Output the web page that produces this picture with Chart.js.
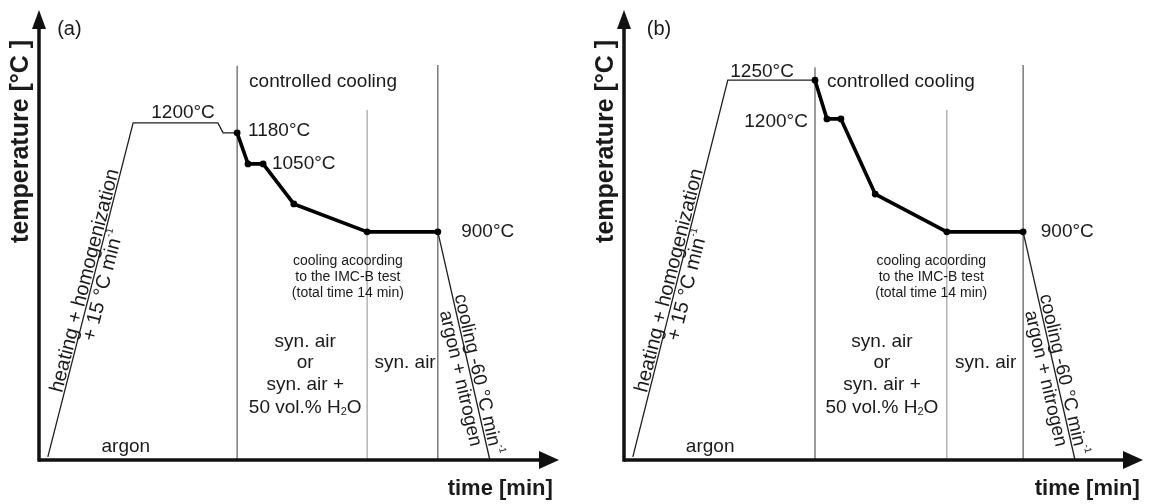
<!DOCTYPE html>
<html><head><meta charset="utf-8">
<script src="https://cdn.jsdelivr.net/npm/chart.js@4.4.0/dist/chart.umd.min.js"></script>
<style>
html,body{margin:0;padding:0;background:#fff;}
#wrap{position:relative;width:1150px;height:504px;overflow:hidden;}
canvas{position:absolute;top:0;}
#ca{left:0;}
#cb{left:585px;}
</style></head><body>
<div id="wrap"><canvas id="ca" width="585" height="504"></canvas><canvas id="cb" width="565" height="504"></canvas></div>
<script>
// Schematic units: relative time 0..100, relative temperature level 0..100
// Panel (a)
const heatA_x = [1.7, 18.1, 34.4, 35.4, 38.1];
const heatA_y = [0.7, 74.9, 74.9, 72.7, 72.7];
const ctrlA_x = [38.1, 40.2, 43.1, 49.0, 63.1, 76.7];
const ctrlA_y = [72.7, 65.8, 65.8, 56.9, 50.7, 50.7];
const coolA_x = [76.7, 86.7];
const coolA_y = [50.7, 0];
const stageA_x = [38.1, 63.1, 76.7];
const stageA_top = [87.6, 77.8, 87.8];
// Panel (b)
const heatB_x = [1.7, 20.0, 36.8];
const heatB_y = [0.7, 84.4, 84.4];
const ctrlB_x = [36.8, 39.1, 41.8, 48.4, 62.2, 76.9];
const ctrlB_y = [84.4, 75.8, 75.8, 59.1, 50.7, 50.7];
const coolB_x = [76.9, 86.9];
const coolB_y = [50.7, 0];
const stageB_x = [36.8, 62.2, 76.9];
const stageB_top = [87.3, 77.8, 87.8];
// temperature labels
const tempA = ['1200°C', '1180°C', '1050°C', '900°C'];
const tempB = ['1250°C', '1200°C', '900°C'];
const atmos = ['argon', 'syn. air', 'or', 'syn. air +', '50 vol.% H_{2}O'];
const imcLines = ['cooling acoording', 'to the IMC-B test', '(total time 14 min)'];

const FONT = '"Liberation Sans", Arial, Helvetica, sans-serif';

function parseRich(text) {
  const segs = []; const re = /(\^\{([^}]*)\}|_\{([^}]*)\})/g; let last = 0, m;
  while ((m = re.exec(text))) {
    if (m.index > last) segs.push({t: text.slice(last, m.index), k: 0});
    if (m[2] !== undefined) segs.push({t: m[2], k: 1}); else segs.push({t: m[3], k: -1});
    last = re.lastIndex;
  }
  if (last < text.length) segs.push({t: text.slice(last), k: 0});
  return segs;
}
function richDraw(ctx, text, x, y, size, weight, align) {
  const segs = parseRich(text);
  const font = k => `${weight} ${k ? Math.round(size * (k === 1 ? 0.5 : 0.6)) : size}px ${FONT}`;
  let w = 0;
  segs.forEach(s => { ctx.font = font(s.k); s.w = ctx.measureText(s.t).width; w += s.w; });
  let sx = align === 'center' ? x - w / 2 : align === 'right' ? x - w : x;
  ctx.textAlign = 'left';
  segs.forEach(s => {
    ctx.font = font(s.k);
    const dy = s.k === 1 ? -size * 0.5 : s.k === -1 ? size * 0.12 : 0;
    ctx.fillText(s.t, sx, y + dy); sx += s.w;
  });
}

const schematic = {
  id: 'schematic',
  afterDraw(chart, args, opts) {
    const ctx = chart.ctx, xs = chart.scales.x, ys = chart.scales.y, a = chart.chartArea;
    ctx.save();
    // axes with arrows
    ctx.strokeStyle = '#111'; ctx.fillStyle = '#111'; ctx.lineWidth = 3.5; ctx.lineCap = 'butt';
    ctx.beginPath(); ctx.moveTo(a.left, a.bottom); ctx.lineTo(a.right - 16, a.bottom); ctx.stroke();
    ctx.beginPath(); ctx.moveTo(a.left, a.bottom + 1.75); ctx.lineTo(a.left, a.top + 14); ctx.stroke();
    ctx.beginPath(); ctx.moveTo(a.right, a.bottom); ctx.lineTo(a.right - 20, a.bottom - 9); ctx.lineTo(a.right - 20, a.bottom + 9); ctx.closePath(); ctx.fill();
    ctx.beginPath(); ctx.moveTo(a.left, a.top); ctx.lineTo(a.left - 7, a.top + 19); ctx.lineTo(a.left + 7, a.top + 19); ctx.closePath(); ctx.fill();
    // labels
    ctx.fillStyle = '#1a1a1a'; ctx.textBaseline = 'alphabetic';
    (opts.labels || []).forEach(L => {
      const px = xs.getPixelForValue(L.x), py = ys.getPixelForValue(L.y);
      ctx.save();
      ctx.translate(px, py);
      if (L.rot) { ctx.rotate(L.rot * Math.PI / 180); ctx.textBaseline = 'middle'; }
      richDraw(ctx, L.t, 0, 0, L.s || 19, L.w || 'normal', L.a || 'left');
      ctx.restore();
      ctx.textBaseline = 'alphabetic';
    });
    (opts.along || []).forEach(L => {
      const p1x = xs.getPixelForValue(L.seg[0]), p1y = ys.getPixelForValue(L.seg[1]);
      const p2x = xs.getPixelForValue(L.seg[2]), p2y = ys.getPixelForValue(L.seg[3]);
      const ang = Math.atan2(p2y - p1y, p2x - p1x);
      ctx.save();
      ctx.translate(p1x, p1y); ctx.rotate(ang);
      richDraw(ctx, L.t, L.along, -L.off, L.s || 19, 'normal', L.a || 'center');
      ctx.restore();
    });
    ctx.restore();
  }
};

function pts(xa, ya) { return xa.map((x, i) => ({x, y: ya[i]})); }

function makeChart(id, P) {
  const ds = [];
  P.stage_x.forEach((x, i) => ds.push({data: [{x, y: 0}, {x, y: P.stage_top[i]}], borderColor: i === 1 ? '#9a9a9a' : '#4a4a4a', borderWidth: 1.1, pointRadius: 0, showLine: true, clip: false, order: 3}));
  ds.push({data: pts(P.heat_x, P.heat_y), borderColor: '#1e1e1e', borderWidth: 1.3, pointRadius: 0, showLine: true, clip: false, order: 2});
  ds.push({data: pts(P.cool_x, P.cool_y), borderColor: '#1e1e1e', borderWidth: 1.3, pointRadius: 0, showLine: true, clip: false, order: 2});
  ds.push({data: pts(P.ctrl_x, P.ctrl_y), borderColor: '#000', borderWidth: 3.6, borderJoinStyle: 'round', pointRadius: 3.4, pointBackgroundColor: '#000', pointBorderWidth: 0, showLine: true, clip: false, order: 1});
  return new Chart(document.getElementById(id), {
    type: 'scatter',
    data: {datasets: ds},
    options: {
      responsive: false, animation: false, events: [],
      layout: {padding: P.pad},
      scales: {x: {type: 'linear', min: 0, max: 100, display: false}, y: {type: 'linear', min: 0, max: 100, display: false}},
      plugins: {legend: {display: false}, tooltip: {enabled: false}, schematic: {labels: P.labels, along: P.along}}
    },
    plugins: [schematic]
  });
}

function commonLabels(P, L) {
  return [
    {t: L.panel, x: L.px, y: 94.4, s: 20},
    {t: 'controlled cooling', x: L.ccx, y: 82.9},
    {t: atmos[0], x: L.argx, y: 1.8, a: 'center'},
    {t: imcLines[0], x: L.imcx, y: 43.3, s: 14, a: 'center'},
    {t: imcLines[1], x: L.imcx, y: 39.8, s: 14, a: 'center'},
    {t: imcLines[2], x: L.imcx, y: 36.2, s: 14, a: 'center'},
    {t: atmos[1], x: L.synx, y: 25.1, a: 'center'},
    {t: atmos[2], x: L.synx, y: 20.4, a: 'center'},
    {t: atmos[3], x: L.synx, y: 15.6, a: 'center'},
    {t: atmos[4], x: L.synx, y: 10.4, a: 'center'},
    {t: atmos[1], x: L.syn2x, y: 20.4, a: 'center'},
    {t: 'time [min]', x: L.timex, y: -7.8, s: 22, w: 'bold', a: 'right'},
    {t: 'temperature [°C ]', x: -3.5, y: 70.8, s: 25, w: 'bold', a: 'center', rot: -90}
  ];
}
function alongLabels(hx, hy, cx, cy) {
  const hs = [hx[0], hy[0], hx[1], hy[1]], cs = [cx[0], cy[0], cx[1], cy[1]];
  return [
    {t: 'heating + homogenization', seg: hs, along: 180, off: 2, s: 20},
    {t: '+ 15 °C min^{-1}', seg: hs, along: 180, off: -17, s: 20},
    {t: 'cooling -60 °C min^{-1}', seg: cs, along: 148, off: 2, s: 19},
    {t: 'argon + nitrogen', seg: cs, along: 148, off: -16, s: 19}
  ];
}

makeChart('ca', {
  heat_x: heatA_x, heat_y: heatA_y, ctrl_x: ctrlA_x, ctrl_y: ctrlA_y, cool_x: coolA_x, cool_y: coolA_y,
  stage_x: stageA_x, stage_top: stageA_top,
  pad: {left: 39, right: 26, top: 10, bottom: 44},
  labels: commonLabels(null, {panel: '(a)', px: 3.5, ccx: 40.4, argx: 16.7, imcx: 59.4, synx: 51.2, syn2x: 70.4, timex: 98.8}).concat([
    {t: tempA[0], x: 27.7, y: 76.0, a: 'center'},
    {t: tempA[1], x: 40.2, y: 72.0},
    {t: tempA[2], x: 44.8, y: 64.7},
    {t: tempA[3], x: 81.2, y: 49.6}
  ]),
  along: alongLabels(heatA_x, heatA_y, coolA_x, coolA_y)
});
makeChart('cb', {
  heat_x: heatB_x, heat_y: heatB_y, ctrl_x: ctrlB_x, ctrl_y: ctrlB_y, cool_x: coolB_x, cool_y: coolB_y,
  stage_x: stageB_x, stage_top: stageB_top,
  pad: {left: 39, right: 7, top: 10, bottom: 44},
  labels: commonLabels(null, {panel: '(b)', px: 4.4, ccx: 39.1, argx: 16.6, imcx: 59.2, synx: 49.7, syn2x: 69.7, timex: 99.4}).concat([
    {t: tempB[0], x: 26.6, y: 85.1, a: 'center'},
    {t: tempB[1], x: 29.3, y: 74.0, a: 'center'},
    {t: tempB[2], x: 80.3, y: 49.6}
  ]),
  along: alongLabels(heatB_x, heatB_y, coolB_x, coolB_y)
});
</script>
</body></html>
